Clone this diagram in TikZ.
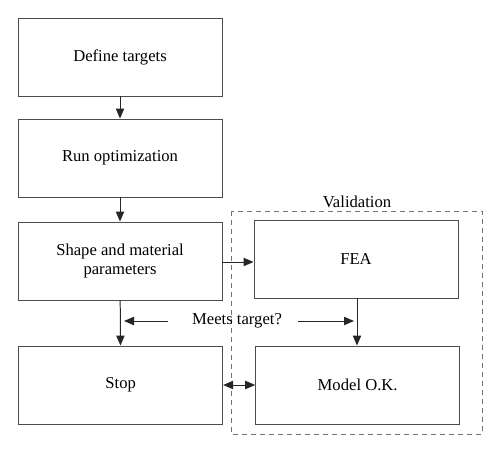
\documentclass[tikz,border=0pt]{standalone}
\usepackage{fontspec}
\setmainfont{Liberation Serif}
\usetikzlibrary{arrows.meta}
\begin{document}
\begin{tikzpicture}[
    box/.style={draw=black!70, line width=0.8pt, minimum width=6.12cm, minimum height=2.34cm, align=center, font=\fontsize{14.2}{17}\selectfont},
    arr/.style={-{Triangle[length=0.3cm,width=0.25cm]}, line width=0.85pt, black!85}
]
% fix the margins
    \useasboundingbox (0,0) rectangle (15,-13.59);

% left column
    \node[box] (define) at (3.6,-1.71) {Define targets};
    \node[box] (run) at (3.6,-4.74) {Run optimization};
    \node[box] (shape) at (3.6,-7.83) {Shape and material\\parameters};
    \node[box] (stop) at (3.62,-11.55) {Stop};

% validation column
    \node[box] (fea) at (10.68,-7.77) {FEA};
    \node[box] (model) at (10.73,-11.55) {Model O.K.};

% dashed frame and its label
    \draw[dash pattern=on 0.15cm off 0.12cm, line width=0.85pt, black!55] (6.93,-6.33) rectangle (14.46,-13.02);
    \node[font=\fontsize{14.2}{17}\selectfont] (valid) at (10.71,-6.06) {Validation};

% main flow
    \draw[arr] (define) -- (run);
    \draw[arr] (run) -- (shape);
    \draw[arr] (shape.east |- 0,-7.86) -- (fea.west |- 0,-7.86);
    \draw[arr] (shape) -- (stop);
    \draw[arr] (fea.south -| 10.71,0) -- (model.north -| 10.71,0);
    \draw[{Triangle[length=0.3cm,width=0.25cm]}-{Triangle[length=0.3cm,width=0.25cm]}, line width=0.85pt, black!85] (stop) -- (model);

% decision text with its two arrows
    \node[font=\fontsize{14.2}{17}\selectfont] (meets) at (7.11,-9.63) {Meets target?};
    \coordinate (leftend) at (3.72,-9.63);
    \coordinate (rightend) at (10.62,-9.63);
    \draw[arr] ([xshift=-0.6cm]meets.west) -- (leftend);
    \draw[arr] ([xshift=0.36cm]meets.east) -- (rightend);

\end{tikzpicture}
\end{document}
